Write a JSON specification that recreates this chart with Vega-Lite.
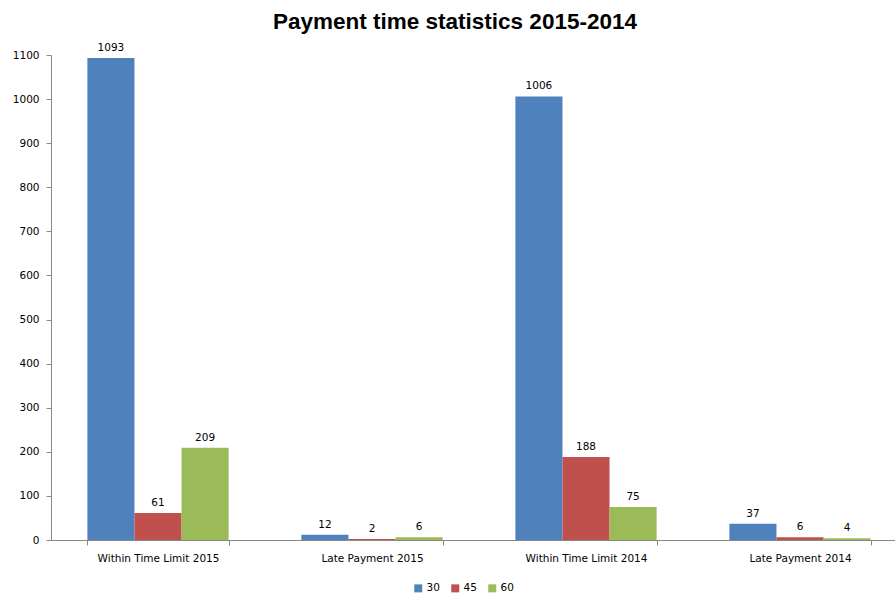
{
  "$schema": "https://vega.github.io/schema/vega-lite/v6.json",
  "width": 844,
  "height": 485,
  "autosize": {"type": "none"},
  "padding": {"left": 51, "top": 55, "right": 0, "bottom": 53},
  "background": "white",
  "title": {
    "text": "Payment time statistics 2015-2014",
    "font": "Liberation Sans",
    "fontSize": 22.5,
    "fontWeight": "bold",
    "color": "#000000",
    "anchor": "middle",
    "dx": -18,
    "offset": 10
  },
  "data": {
    "values": [
      {"category": "Within Time Limit 2015", "series": "30", "value": 1093},
      {"category": "Within Time Limit 2015", "series": "45", "value": 61},
      {"category": "Within Time Limit 2015", "series": "60", "value": 209},
      {"category": "Late Payment 2015", "series": "30", "value": 12},
      {"category": "Late Payment 2015", "series": "45", "value": 2},
      {"category": "Late Payment 2015", "series": "60", "value": 6},
      {"category": "Within Time Limit 2014", "series": "30", "value": 1006},
      {"category": "Within Time Limit 2014", "series": "45", "value": 188},
      {"category": "Within Time Limit 2014", "series": "60", "value": 75},
      {"category": "Late Payment 2014", "series": "30", "value": 37},
      {"category": "Late Payment 2014", "series": "45", "value": 6},
      {"category": "Late Payment 2014", "series": "60", "value": 4}
    ]
  },
  "encoding": {
    "x": {
      "field": "category",
      "type": "nominal",
      "sort": null,
      "scale": {"range": [0, 856], "paddingInner": 0.34, "paddingOuter": 0.17},
      "axis": {
        "title": null,
        "labelAngle": 0,
        "labelFont": "DejaVu Sans",
        "labelFontSize": 10.5,
        "labelColor": "#000000",
        "labelPadding": 8,
        "tickBand": "extent",
        "tickSize": 5,
        "tickColor": "#888888",
        "domainColor": "#888888",
        "grid": false
      }
    },
    "xOffset": {"field": "series", "type": "nominal", "sort": ["30", "45", "60"]},
    "y": {
      "field": "value",
      "type": "quantitative",
      "scale": {"domain": [0, 1100], "nice": false},
      "axis": {
        "title": null,
        "format": "d",
        "values": [0, 100, 200, 300, 400, 500, 600, 700, 800, 900, 1000, 1100],
        "labelFont": "DejaVu Sans",
        "labelFontSize": 10.5,
        "labelColor": "#000000",
        "tickSize": 5,
        "tickColor": "#888888",
        "domainColor": "#888888",
        "grid": false,
        "labelPadding": 7
      }
    }
  },
  "layer": [
    {
      "mark": {"type": "bar"},
      "encoding": {
        "color": {
          "field": "series",
          "type": "nominal",
          "sort": ["30", "45", "60"],
          "scale": {"domain": ["30", "45", "60"], "range": ["#4F81BD", "#C0504D", "#9BBB59"]},
          "legend": {
            "title": null,
            "orient": "none",
            "direction": "horizontal",
            "legendX": 362,
            "legendY": 528,
            "padding": 0,
            "symbolType": "square",
            "symbolSize": 64,
            "symbolStrokeWidth": 0,
            "labelFont": "DejaVu Sans",
            "labelFontSize": 10.5,
            "labelColor": "#000000",
            "columnPadding": 10,
            "labelOffset": 3
          }
        }
      }
    },
    {
      "mark": {"type": "text", "dy": -10, "font": "DejaVu Sans", "fontSize": 10.5, "color": "#000000"},
      "encoding": {"text": {"field": "value", "type": "quantitative"}}
    }
  ],
  "config": {"view": {"stroke": null}}
}
